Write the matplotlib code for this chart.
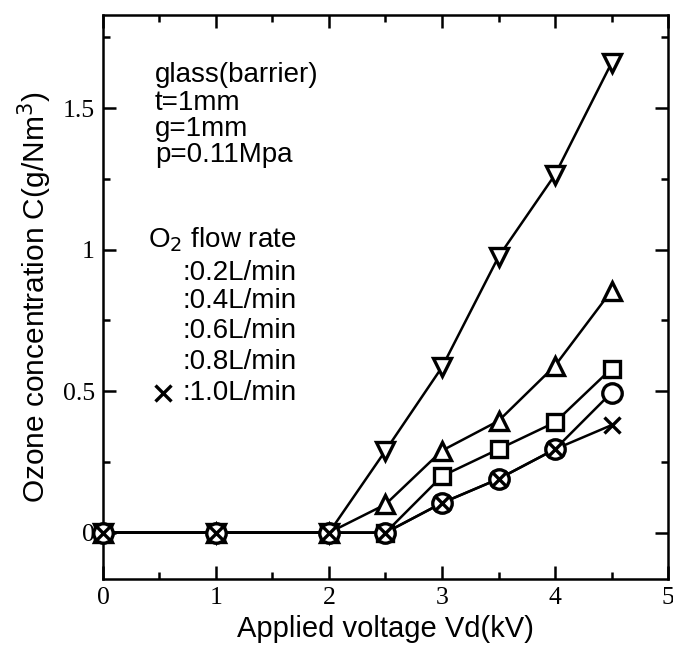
import matplotlib
matplotlib.use("Agg")
import matplotlib.pyplot as plt
from matplotlib.ticker import MultipleLocator, FuncFormatter

# applied voltage (kV)
voltage = [0, 1, 2, 2.5, 3, 3.5, 4, 4.5]

# ozone concentration (g/Nm3) per O2 flow rate
conc_02 = [0, 0, 0, 0.29, 0.585, 0.975, 1.265, 1.66]
conc_04 = [0, 0, 0, 0.10, 0.29, 0.395, 0.59, 0.855]
conc_06 = [0, 0, 0, 0, 0.20, 0.295, 0.39, 0.58]
conc_08 = [0, 0, 0, 0, 0.105, 0.19, 0.295, 0.495]
conc_10 = [0, 0, 0, 0, 0.105, 0.19, 0.295, 0.38]

flow_labels = [":0.2L/min", ":0.4L/min", ":0.6L/min", ":0.8L/min", ":1.0L/min"]
info_lines = ["glass(barrier)", "t=1mm", "g=1mm", "p=0.11Mpa"]

sans = "Liberation Sans"
serif = "Liberation Serif"

fig = plt.figure(figsize=(6.73, 6.46), dpi=100)
ax = fig.add_axes([0.153, 0.104, 0.8396, 0.873])

series = [
    (conc_02, "v", 13),
    (conc_04, "^", 13),
    (conc_06, "s", 12),
    (conc_08, "o", 14),
    (conc_10, "x", 12),
]

for y, m, ms in series:
    ax.plot(voltage, y, "-", color="black", lw=1.8, zorder=2, clip_on=False)
for i, (y, m, ms) in enumerate(series):
    ax.plot(voltage, y, ls="none", marker=m, ms=ms, mfc="white", mec="black",
            mew=2.4, zorder=3 + i, clip_on=False)

ax.set_xlim(0, 5)
ax.set_ylim(-0.163, 1.83)
ax.xaxis.set_major_locator(MultipleLocator(1))
ax.xaxis.set_minor_locator(MultipleLocator(0.5))
ax.yaxis.set_major_locator(MultipleLocator(0.5))
ax.yaxis.set_minor_locator(MultipleLocator(0.25))
ax.yaxis.set_major_formatter(FuncFormatter(lambda v, p: "%g" % v))

ax.tick_params(which="both", direction="in", top=True, right=True, width=1.8)
ax.tick_params(which="major", length=9.5, labelsize=18.5, pad=6)
ax.tick_params(which="minor", length=5)
for lab in ax.get_xticklabels() + ax.get_yticklabels():
    lab.set_fontfamily(serif)
for s in ax.spines.values():
    s.set_linewidth(1.8)

ax.set_xlabel("Applied voltage Vd(kV)", fontsize=21, family=sans, labelpad=4)
ax.set_ylabel("Ozone concentration C(g/Nm$^3$)", fontsize=21.5, family=sans, labelpad=6)

# condition text
info_y = [0.894, 0.844, 0.797, 0.751]
for t, yy in zip(info_lines, info_y):
    ax.text(0.092, yy, t, transform=ax.transAxes, fontsize=20, family=sans,
            va="center", ha="left")

ax.text(0.08, 0.601, "O$_2$ flow rate", transform=ax.transAxes, fontsize=20,
        family=sans, va="center", ha="left")
flow_y = [0.543, 0.492, 0.44, 0.385, 0.33]
for t, yy in zip(flow_labels, flow_y):
    ax.text(0.14, yy, t, transform=ax.transAxes, fontsize=20, family=sans,
            va="center", ha="left")
ax.plot([0.107], [flow_y[-1]], transform=ax.transAxes, ls="none", marker="x",
        ms=11, mec="black", mew=2.4)

fig.savefig("out.png", dpi=100)
